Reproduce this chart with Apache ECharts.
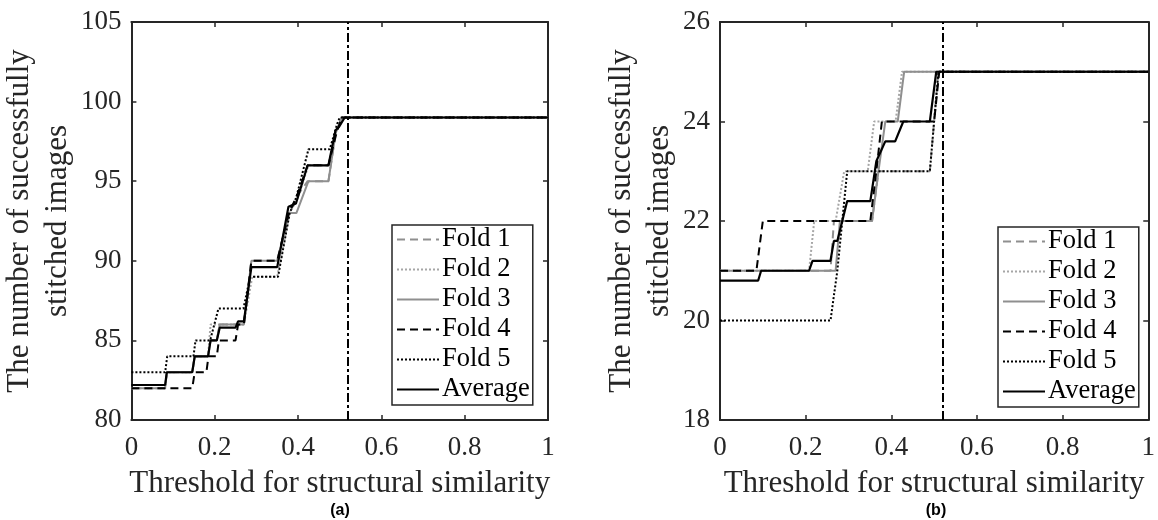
<!DOCTYPE html>
<html>
<head>
<meta charset="utf-8">
<script src="https://cdn.jsdelivr.net/npm/echarts@6/dist/echarts.min.js"></script>
<style>
html,body{margin:0;padding:0;background:#fff;}
#chart{width:1158px;height:520px;}
</style>
</head>
<body>
<div id="chart"></div>
<script>
// ---------- data ----------
const seriesNames = ['Fold 1', 'Fold 2', 'Fold 3', 'Fold 4', 'Fold 5', 'Average'];
const xTicks = [0, 0.2, 0.4, 0.6, 0.8, 1];
const yTicksA = [80, 85, 90, 95, 100, 105];
const yTicksB = [18, 20, 22, 24, 26];
const thresholdLine = 0.52;

// panel (a)
const fold1A = [[0,82],[0.081,82],[0.085,83],[0.146,83],[0.152,84],[0.184,84],[0.19,85],[0.205,85],[0.212,86],[0.27,86],[0.288,90],[0.35,90],[0.378,93],[0.396,94],[0.423,95],[0.473,95],[0.49,98],[0.505,99],[1,99]];
const fold2A = [[0,82],[0.081,82],[0.085,83],[0.146,83],[0.152,84],[0.184,84],[0.19,86],[0.27,86],[0.29,89],[0.35,89],[0.38,93],[0.4,94],[0.425,96],[0.473,96],[0.49,98],[0.505,99],[1,99]];
const fold3A = [[0,82],[0.081,82],[0.085,83],[0.146,83],[0.152,84],[0.184,84],[0.19,85],[0.205,85],[0.212,86],[0.27,86],[0.288,90],[0.35,90],[0.378,93],[0.396,93],[0.425,95],[0.473,95],[0.49,98],[0.505,99],[1,99]];
const fold4A = [[0,82],[0.146,82],[0.152,83],[0.18,83],[0.185,84],[0.205,84],[0.21,85],[0.25,85],[0.256,86],[0.27,86],[0.288,90],[0.35,90],[0.378,93],[0.396,94],[0.423,96],[0.473,96],[0.492,98],[0.505,99],[1,99]];
const fold5A = [[0,83],[0.081,83],[0.086,84],[0.149,84],[0.154,85],[0.189,85],[0.209,87],[0.269,87],[0.285,89],[0.352,89],[0.38,93],[0.396,94],[0.425,97],[0.476,97],[0.494,98.6],[0.5,99],[1,99]];
const avgA   = [[0,82.2],[0.081,82.2],[0.085,83],[0.146,83],[0.152,84],[0.184,84],[0.19,85],[0.205,85],[0.212,85.8],[0.25,85.8],[0.256,86.2],[0.27,86.2],[0.288,89.6],[0.35,89.6],[0.377,93.4],[0.395,93.6],[0.423,96],[0.473,96],[0.49,98.2],[0.498,98.4],[0.512,99],[1,99]];

// panel (b)
const fold1B = [[0,21],[0.258,21],[0.266,22],[0.355,22],[0.37,23],[0.49,23],[0.51,25],[1,25]];
const fold2B = [[0,21],[0.208,21],[0.22,22],[0.27,22],[0.29,23],[0.345,23],[0.36,24],[0.41,24],[0.425,25],[1,25]];
const fold3B = [[0,21],[0.27,21],[0.28,22],[0.355,22],[0.37,23],[0.386,24],[0.415,24],[0.43,25],[1,25]];
const fold4B = [[0,21],[0.085,21],[0.1,22],[0.351,22],[0.365,23],[0.378,24],[0.5,24],[0.512,25],[1,25]];
const fold5B = [[0,20],[0.258,20],[0.274,21],[0.297,23],[0.49,23],[0.5,24],[0.51,25],[1,25]];
const avgB   = [[0,20.8],[0.089,20.8],[0.096,21],[0.208,21],[0.216,21.2],[0.258,21.2],[0.266,21.6],[0.274,21.6],[0.297,22.4],[0.351,22.4],[0.365,23.2],[0.386,23.6],[0.409,23.6],[0.428,24],[0.49,24],[0.505,25],[1,25]];

// ---------- styles ----------
const serif = 'Liberation Serif';
const axisColor = '#262626';
const styles = [
  {color:'#8f8f8f', type:[8,5], width:2},
  {color:'#a6a6a6', type:[2,2], width:2},
  {color:'#8f8f8f', type:'solid', width:2},
  {color:'#000000', type:[8,5], width:2},
  {color:'#000000', type:[2,2], width:2},
  {color:'#000000', type:'solid', width:2.2}
];

function xAxisDef(grid, pos, showLabel, name) {
  return {
    type:'value', gridIndex:grid, position:pos, min:xTicks[0], max:xTicks[xTicks.length-1], interval:0.2,
    axisLine:{show:true, onZero:false, lineStyle:{color:axisColor, width:2}},
    axisTick:{show:true, inside:true, length:5, lineStyle:{color:axisColor, width:1.5}},
    axisLabel:{show:showLabel, margin:14, color:axisColor, fontFamily:serif, fontSize:27},
    splitLine:{show:false},
    name: name || '', nameLocation:'middle', nameGap:48,
    nameTextStyle:{color:axisColor, fontFamily:serif, fontSize:31}
  };
}
function yAxisDef(grid, pos, ticks, interval, showLabel, nameGap) {
  return {
    type:'value', gridIndex:grid, position:pos, min:ticks[0], max:ticks[ticks.length-1], interval:interval,
    axisLine:{show:true, onZero:false, lineStyle:{color:axisColor, width:2}},
    axisTick:{show:true, inside:true, length:5, lineStyle:{color:axisColor, width:1.5}},
    axisLabel:{show:showLabel, margin:10, color:axisColor, fontFamily:serif, fontSize:27},
    splitLine:{show:false},
    name: showLabel ? 'The number of successfully\nstitched images' : '',
    nameLocation:'middle', nameRotate:90, nameGap:nameGap||0,
    nameTextStyle:{color:axisColor, fontFamily:serif, fontSize:31, lineHeight:38}
  };
}

function makeSeries(dataList, xi, yi) {
  return dataList.map((d, i) => ({
    type:'line', name:seriesNames[i], xAxisIndex:xi, yAxisIndex:yi,
    data:d, symbol:'none', showSymbol:false, smooth:false,
    lineStyle:{color:styles[i].color, type:styles[i].type, width:styles[i].width},
    itemStyle:{color:styles[i].color},
    z: 2 + i,
    silent:true
  }));
}

const seriesA = makeSeries([fold1A, fold2A, fold3A, fold4A, fold5A, avgA], 0, 0);
const seriesB = makeSeries([fold1B, fold2B, fold3B, fold4B, fold5B, avgB], 2, 2);
const vline = {
  symbol:'none', silent:true, label:{show:false},
  lineStyle:{color:'#000', type:[9,3,3,3], width:2},
  data:[{xAxis:thresholdLine}]
};
seriesA[5].markLine = vline;
seriesB[5].markLine = JSON.parse(JSON.stringify(vline));

function legendDef(left, top) {
  return {
    show:true, orient:'vertical', left:left, top:top,
    data:seriesNames,
    itemWidth:42, itemHeight:14, itemGap:3,
    padding:[1,3,2,4],
    borderColor:axisColor, borderWidth:1.5, backgroundColor:'#fff',
    itemStyle:{opacity:0},
    textStyle:{color:'#000', fontFamily:serif, fontSize:26.5, lineHeight:26.5, padding:[0,0,0,-2]},
    selectedMode:false
  };
}

const option = {
  animation:false,
  backgroundColor:'#fff',
  grid:[
    {left:131, right:1158-548, top:22, bottom:100},
    {left:720, right:6, top:22, bottom:100}
  ],
  xAxis:[
    xAxisDef(0,'bottom',true,'Threshold for structural similarity'),
    xAxisDef(0,'top',false),
    xAxisDef(1,'bottom',true,'Threshold for structural similarity'),
    xAxisDef(1,'top',false)
  ],
  yAxis:[
    yAxisDef(0,'left',yTicksA,5,true,44),
    yAxisDef(0,'right',yTicksA,5,false),
    yAxisDef(1,'left',yTicksB,2,true,28),
    yAxisDef(1,'right',yTicksB,2,false)
  ],
  legend:[legendDef(392,225), legendDef(998,227)],
  graphic:[
    {type:'text', x:340, y:511, style:{text:'(a)', fill:'#000', font:'bold 16px "Liberation Sans"', textAlign:'center', textVerticalAlign:'middle'}},
    {type:'text', x:936, y:511, style:{text:'(b)', fill:'#000', font:'bold 16px "Liberation Sans"', textAlign:'center', textVerticalAlign:'middle'}}
  ],
  series:[...seriesA, ...seriesB]
};

const chart = echarts.init(document.getElementById('chart'), null, {renderer:'canvas'});
chart.setOption(option);
</script>
</body>
</html>
